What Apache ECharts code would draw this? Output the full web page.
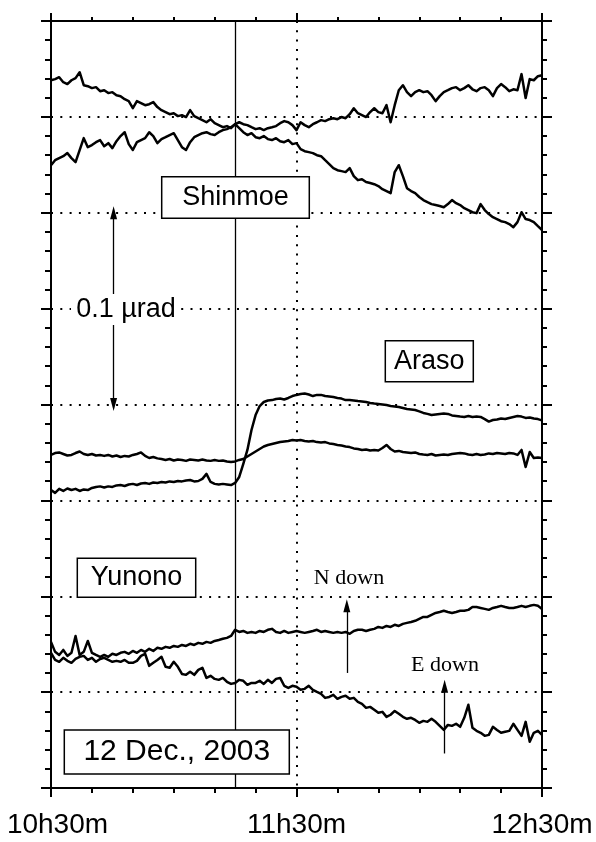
<!DOCTYPE html>
<html><head><meta charset="utf-8">
<script src="https://cdn.jsdelivr.net/npm/echarts@6/dist/echarts.min.js"></script>
<style>html,body{margin:0;padding:0;background:#fff}#c{width:596px;height:842px}</style>
</head><body><div id="c"></div>
<script>
// sample times: minutes after 10h30m (one reading per minute)
const minutes = Array.from({length: 121}, (_, i) => i);
const tickMinutes = [0, 60, 120];
const tickLabels = ['10h30m', '11h30m', '12h30m'];
const eventMinute = 45; // solid vertical line (11h15m)

// tilt traces, nrad (offset)
const shinmoeA = [369.1,369.7,370.7,368.1,367.1,369.1,370.2,373.3,366.5,366.0,
365.0,365.5,363.4,363.9,362.4,362.9,361.3,360.8,359.2,358.2,
354.5,358.2,357.2,356.1,356.6,357.7,355.1,353.5,352.5,351.4,
351.9,350.4,350.9,349.9,353.5,350.4,349.3,348.3,347.2,348.8,
346.7,345.7,344.6,345.2,344.1,346.2,344.1,342.0,340.5,341.5,
339.4,338.9,340.0,338.4,337.9,338.9,337.3,336.8,337.9,335.8,
336.3,333.2,332.1,331.6,331.1,330.0,329.5,327.4,325.4,323.3,
322.2,321.7,321.2,323.3,319.1,317.0,317.5,316.0,315.5,314.9,
313.9,312.3,311.3,310.2,321.2,324.8,319.1,312.8,311.3,310.2,
308.2,306.6,305.5,304.5,304.0,303.5,302.9,304.5,306.6,305.0,
304.0,302.4,301.4,300.3,299.8,304.5,301.4,299.3,297.7,296.7,
295.6,295.1,294.1,292.5,295.1,300.3,296.7,296.2,295.1,293.0,
291.0];
const shinmoeB = [324.8,327.4,328.5,329.5,331.1,328.5,326.4,332.7,338.9,334.2,
335.3,336.8,337.9,334.7,336.3,333.7,337.3,340.0,342.0,335.8,
332.7,336.8,337.9,338.9,342.0,340.0,336.3,338.4,339.4,340.5,
341.5,337.9,334.2,332.7,336.8,339.4,340.5,341.5,342.0,341.0,
340.5,342.0,343.1,343.6,344.6,346.2,347.2,346.2,345.7,344.6,
343.6,344.1,343.1,344.1,344.6,345.2,346.7,347.8,347.2,345.7,
343.1,347.2,345.7,344.6,346.2,347.2,348.3,347.8,348.8,349.3,
348.8,349.9,349.3,351.4,354.5,351.9,350.9,349.9,352.5,354.5,
352.5,351.9,356.1,347.2,356.1,363.9,366.5,362.9,360.8,362.9,
363.9,362.9,363.4,361.3,358.2,360.8,362.9,363.9,365.0,365.5,
363.9,365.0,366.5,364.4,363.4,365.0,365.5,363.9,360.8,365.0,
367.1,365.5,363.4,364.4,363.9,372.3,359.8,369.7,369.1,371.2,
371.7];
const arasoC = [173.7,174.7,175.0,174.2,173.4,173.7,174.7,175.5,174.2,173.7,
174.2,173.4,173.7,173.2,173.7,172.9,173.4,172.6,173.2,172.9,
173.7,174.2,175.0,173.2,172.1,172.6,171.9,171.6,171.1,171.6,
170.8,171.3,171.1,170.6,171.3,171.1,170.8,171.3,170.8,170.6,
171.1,170.6,170.8,170.3,170.0,170.3,171.1,171.6,172.9,174.2,
175.5,176.8,178.1,178.9,179.4,179.9,180.4,180.7,181.0,181.5,
181.2,181.5,181.0,180.7,181.0,180.4,180.2,180.4,179.7,179.4,
178.9,178.6,178.1,177.8,177.1,176.8,176.3,176.5,176.0,176.3,
176.0,177.3,178.9,176.8,175.5,175.8,175.2,175.0,174.7,175.0,
174.2,173.9,173.7,174.2,173.4,173.7,173.9,173.7,174.2,174.5,
174.7,174.5,173.9,173.7,174.2,173.7,173.9,174.5,174.2,174.7,
174.5,174.2,174.7,174.5,173.7,176.3,167.4,175.2,172.1,172.4,
172.1];
const arasoD = [155.4,153.9,156.0,154.9,156.2,155.4,156.0,154.9,155.7,155.4,
156.5,157.0,157.3,156.7,157.3,157.0,157.8,158.0,157.5,158.3,
158.6,158.0,158.8,159.1,158.6,159.3,159.1,159.6,159.3,159.9,
159.6,160.1,159.9,160.4,160.6,159.9,160.1,161.2,163.8,159.6,
158.6,158.3,158.6,158.3,158.0,159.1,162.2,169.0,176.3,186.7,
194.5,199.2,201.3,202.1,202.3,202.9,203.1,202.6,203.4,204.4,
205.0,205.5,205.7,205.2,204.4,205.0,205.0,204.4,204.2,203.9,
203.4,203.1,202.3,202.3,202.1,201.8,201.6,201.3,200.8,200.5,
200.3,200.0,199.7,199.2,199.0,198.7,198.2,197.7,197.4,197.1,
196.4,195.6,195.1,194.5,194.8,195.1,195.3,195.1,194.3,194.0,
193.7,193.5,194.0,193.5,193.7,193.5,192.4,191.1,191.9,192.2,
192.7,192.4,193.0,193.5,194.0,193.7,193.0,193.2,192.7,192.4,
191.7];
const yunonoE = [76.2,71.0,69.4,72.0,68.9,70.5,79.3,69.4,71.0,76.7,
70.5,69.4,68.4,69.4,68.4,70.0,69.4,70.5,71.0,70.0,
71.5,70.5,72.0,71.0,72.6,71.5,73.1,72.6,73.6,73.1,
74.1,73.6,74.6,74.1,75.2,74.6,75.7,75.2,76.2,75.7,
76.7,77.2,77.8,78.3,79.3,82.5,81.4,81.9,80.9,81.4,
80.9,81.9,81.4,82.5,83.0,81.4,80.9,81.9,80.9,81.4,
81.9,81.4,80.9,81.4,81.9,82.5,81.4,81.9,81.4,80.9,
81.4,80.9,81.4,80.4,81.9,82.5,82.5,81.9,82.5,83.0,
84.0,83.5,84.5,84.0,85.1,84.5,85.6,86.1,86.6,87.2,
88.2,89.2,89.2,90.3,91.3,91.8,92.4,91.8,91.3,91.8,
92.4,92.4,92.9,94.4,94.4,93.9,93.4,92.9,93.9,94.4,
95.0,94.4,93.9,93.9,94.4,95.0,94.4,95.0,95.5,95.0,
93.4];
const yunonoF = [70.5,66.8,65.8,67.9,66.3,65.3,67.3,68.4,68.9,66.8,
67.9,65.8,67.3,67.9,66.8,65.8,66.3,65.8,66.8,65.3,
65.3,66.3,68.9,70.0,63.7,65.3,66.8,68.4,63.2,62.7,
65.8,63.2,59.5,59.0,60.6,59.0,61.6,62.7,57.4,58.5,
56.9,56.4,57.4,55.4,54.3,54.8,56.4,55.9,53.8,54.8,
54.8,55.9,54.3,56.4,54.8,56.9,57.4,53.3,52.2,53.3,
52.8,51.2,51.7,53.3,51.2,50.1,49.1,47.0,47.5,48.6,
46.5,47.5,48.1,46.5,47.0,44.9,43.9,41.8,42.3,40.8,
39.2,39.7,37.1,38.2,40.2,38.7,37.1,36.1,36.6,35.5,
34.0,35.0,34.5,36.1,34.5,32.4,30.3,32.9,32.4,33.5,
31.9,36.6,43.4,31.4,29.8,28.8,27.2,27.7,31.9,30.3,
28.8,29.3,29.8,33.5,30.3,27.2,34.5,24.1,28.8,29.8,
27.7];

// annotation arrows [minute, nrad]
const scaleArrow = [[15.3, 300], [15.3, 200]]; // 0.1 µrad
const nDownArrow = [[72.3, 60], [72.3, 95]];
const eDownArrow = [[96.2, 18], [96.2, 53]];

const FONT = '"Liberation Sans", Arial, Helvetica, sans-serif';
const SERIF = '"Liberation Serif", "Times New Roman", serif';
const BLACK = '#000';
const dotted = {color: BLACK, width: 2, type: [2, 7.3]};

function axisCommon(pos) {
  return {
    type: 'value', position: pos,
    axisLine: {show: true, onZero: false, lineStyle: {color: BLACK, width: 2}},
    axisTick: {show: true, inside: false, lineStyle: {color: BLACK, width: 2}},
    minorTick: {show: true, lineStyle: {color: BLACK, width: 2}},
    axisLabel: {show: false},
    splitLine: {show: false},
    minorSplitLine: {show: false}
  };
}

const xBottom = Object.assign(axisCommon('bottom'), {min: 0, max: 120, interval: 60});
xBottom.axisTick.length = 9; xBottom.minorTick.length = 5; xBottom.minorTick.splitNumber = 6;
xBottom.splitLine = {show: true, lineStyle: dotted};
xBottom.axisLabel = {
  show: true, margin: 23, color: BLACK, fontFamily: FONT, fontSize: 28,
  formatter: v => {
    const i = tickMinutes.indexOf(v);
    if (i < 0) return '';
    return i === 0 ? '{first|' + tickLabels[i] + '}' : tickLabels[i];
  },
  rich: {first: {fontFamily: FONT, fontSize: 28, color: BLACK, padding: [0, 0, 0, 13]}}
};
const xTop = Object.assign(axisCommon('top'), {min: 0, max: 120, interval: 60});
xTop.axisTick.length = 8; xTop.minorTick.length = 4; xTop.minorTick.splitNumber = 6;

const yLeft = Object.assign(axisCommon('left'), {min: 0, max: 400, interval: 50});
yLeft.axisTick.length = 10; yLeft.minorTick.length = 6; yLeft.minorTick.splitNumber = 5;
yLeft.splitLine = {show: true, lineStyle: dotted};
const yRight = Object.assign(axisCommon('right'), {min: 0, max: 400, interval: 50});
yRight.axisTick.length = 10; yRight.minorTick.length = 5; yRight.minorTick.splitNumber = 5;

const traces = [shinmoeA, shinmoeB, arasoC, arasoD, yunonoE, yunonoF];
const series = traces.map(arr => ({
  type: 'line', xAxisIndex: 0, yAxisIndex: 0,
  data: minutes.map((m, i) => [m, arr[i]]),
  showSymbol: false, symbol: 'none', silent: true, z: 3,
  lineStyle: {color: BLACK, width: 2.5, join: 'round'}
}));

const arrowEnd = (p) => ({coord: p, symbol: 'triangle', symbolSize: [7, 13]});
const plainEnd = (p) => ({coord: p, symbol: 'none'});
series[0].markLine = {
  silent: true, animation: false, symbol: ['none', 'none'],
  label: {show: false}, emphasis: {disabled: true},
  lineStyle: {color: BLACK, type: 'solid', width: 1.3},
  data: [
    [plainEnd([eventMinute, 0]), plainEnd([eventMinute, 400])],
    [arrowEnd(scaleArrow[0]), arrowEnd(scaleArrow[1])],
    [plainEnd(nDownArrow[0]), arrowEnd(nDownArrow[1])],
    [plainEnd(eDownArrow[0]), arrowEnd(eDownArrow[1])]
  ]
};

function box(x, y, w, h, text, size) {
  return {
    type: 'group', z: 100, children: [
      {type: 'rect', z: 100, shape: {x: x, y: y, width: w, height: h},
       style: {fill: '#fff', stroke: BLACK, lineWidth: 1.5}},
      {type: 'text', z: 101, x: x + w / 2, y: y + h / 2,
       style: {text: text, fill: BLACK, font: size + 'px ' + FONT,
               textAlign: 'center', textVerticalAlign: 'middle', align: 'center', verticalAlign: 'middle'}}
    ]
  };
}
function label(x, y, text, font) {
  return {type: 'text', z: 101, x: x, y: y,
    style: {text: text, fill: BLACK, font: font,
            textAlign: 'center', textVerticalAlign: 'middle', align: 'center', verticalAlign: 'middle'}};
}

const chart = echarts.init(document.getElementById('c'), null, {renderer: 'canvas'});
chart.setOption({
  animation: false,
  backgroundColor: '#fff',
  grid: {left: 51, right: 54, top: 21, bottom: 54, containLabel: false, outerBoundsMode: 'none'},
  xAxis: [xBottom, xTop],
  yAxis: [yLeft, yRight],
  series: series,
  graphic: [
    box(161.7, 176.7, 147.6, 41.6, 'Shinmoe', 27),
    box(385.3, 340.7, 88, 41, 'Araso', 27),
    box(77.3, 558.3, 118.4, 39, 'Yunono', 27),
    box(64.3, 730, 225, 44, '12 Dec., 2003', 30),
    {type: 'rect', z: 100, shape: {x: 71, y: 294, width: 110, height: 31}, style: {fill: '#fff', stroke: null}},
    label(126, 310, '0.1 µrad', '27px ' + FONT),
    label(349, 578, 'N down', '22px ' + SERIF),
    label(445, 665, 'E down', '22px ' + SERIF)
  ]
});
</script>
</body></html>
